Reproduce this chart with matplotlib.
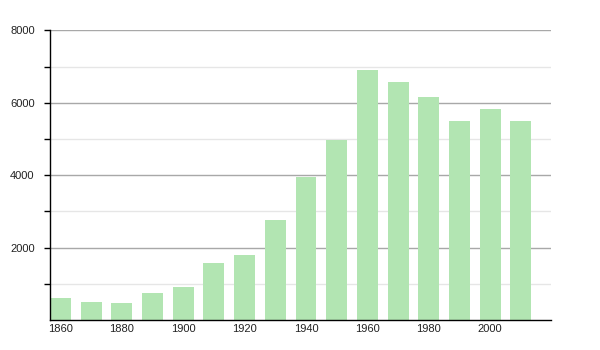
import matplotlib.pyplot as plt
import numpy as np

years = [1860, 1870, 1880, 1890, 1900, 1910, 1920, 1930, 1940, 1950,
         1960, 1970, 1980, 1990, 2000, 2010]
population = [620, 500, 470, 750, 920, 1580, 1800, 2770, 3950, 4980,
              6900, 6570, 6160, 5500, 5820, 5500]
xtick_years = [1860, 1880, 1900, 1920, 1940, 1960, 1980, 2000]
major_y = [2000, 4000, 6000, 8000]
minor_y = [1000, 3000, 5000, 7000]

plt.rcParams['font.family'] = ['Liberation Sans', 'DejaVu Sans']

fig = plt.figure(figsize=(6, 3.5), dpi=100)
ax = fig.add_axes([0.0833, 0.0857, 0.8345, 0.8277])

ax.bar(years, population, width=6.8, color='#b2e5b2', zorder=2)

ax.set_xlim(1856.6, 2019.7)
ax.set_ylim(0, 8000)

ax.set_yticks(major_y)
ax.set_yticks(minor_y, minor=True)
ax.grid(axis='y', which='major', color='#a8a8a8', linewidth=1, zorder=0)
ax.grid(axis='y', which='minor', color='#e6e6e6', linewidth=1, zorder=0)
ax.tick_params(axis='y', which='both', length=4, width=1, color='black',
               labelsize=8, pad=7, labelcolor='#222222')

ax.set_xticks(xtick_years)
ax.tick_params(axis='x', length=0, labelsize=8, pad=3, labelcolor='#222222')

for side in ['top', 'right']:
    ax.spines[side].set_visible(False)
ax.spines['left'].set_color('black')
ax.spines['bottom'].set_color('black')
ax.spines['left'].set_linewidth(1)
ax.spines['bottom'].set_linewidth(1)
ax.set_axisbelow(True)

fig.savefig('out.png', dpi=100)
